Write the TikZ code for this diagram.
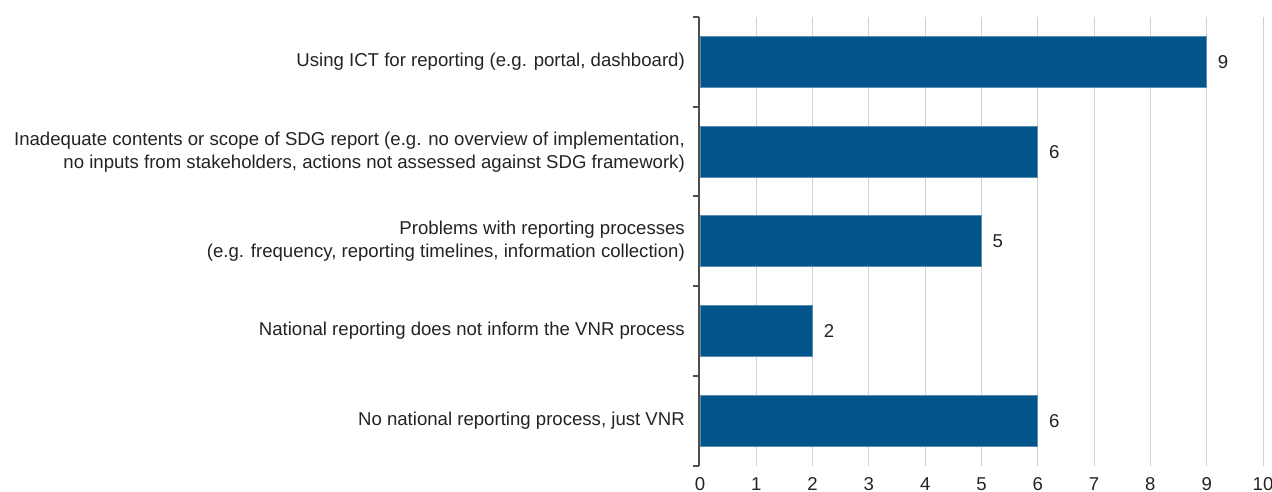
\documentclass[tikz,border=0pt]{standalone}
\usepackage{fontspec}
\setmainfont{Liberation Sans}
\definecolor{barblue}{RGB}{2,85,138}
\definecolor{baredge}{RGB}{90,140,180}
\definecolor{gridgray}{RGB}{210,210,210}
\definecolor{txt}{RGB}{35,35,35}
\begin{document}
\begin{tikzpicture}[x=1pt,y=-1pt,
  bar/.style={fill=barblue,draw=baredge,line width=0.8pt},
  grid/.style={draw=gridgray,line width=1pt},
  axisline/.style={draw=txt!80,line width=1.2pt},
  cat/.style={anchor=east,align=right,font=\fontsize{18.6}{22.5}\selectfont,text=txt,inner sep=0pt},
  val/.style={anchor=west,font=\fontsize{18.6}{20}\selectfont,text=txt,inner sep=0pt},
  ticklab/.style={anchor=center,font=\fontsize{18.6}{20}\selectfont,text=txt,inner sep=0pt}]
\useasboundingbox (0,0) rectangle (1272,492);
% grid
\foreach \i in {1,...,10} {
  \draw[grid] ({700+56.3*\i},17) -- ({700+56.3*\i},466);
}
% tick labels
\foreach \i in {0,...,10} {
  \node[ticklab] (t\i) at ({700+56.3*\i},484) {\i};
}
% bars
\foreach \v/\yc/\n in {9/62/b1,6/152/b2,5/241/b3,2/331/b4,6/421/b5} {
  \draw[bar] (700,{\yc-25.5}) rectangle ({700+56.3*\v},{\yc+25.5});
  \node[val] (\n) at ({700+56.3*\v+11},\yc) {\v};
}
% axis
\draw[axisline] (699,17) -- (699,466);
\foreach \y in {17,107,196,286,376,466} {
  \draw[axisline] (693,\y) -- (699,\y);
}
% categories
\node[cat] (c1) at (685,62) {Using ICT for reporting (e.g. portal, dashboard)};
\node[cat] (c2) at (685,152) {Inadequate contents or scope of SDG report (e.g. no overview of implementation,\\no inputs from stakeholders, actions not assessed against SDG framework)};
\node[cat] (c3) at (685,241) {Problems with reporting processes\\(e.g. frequency, reporting timelines, information collection)};
\node[cat] (c4) at (685,331) {National reporting does not inform the VNR process};
\node[cat] (c5) at (685,421) {No national reporting process, just VNR};
\end{tikzpicture}
\end{document}
